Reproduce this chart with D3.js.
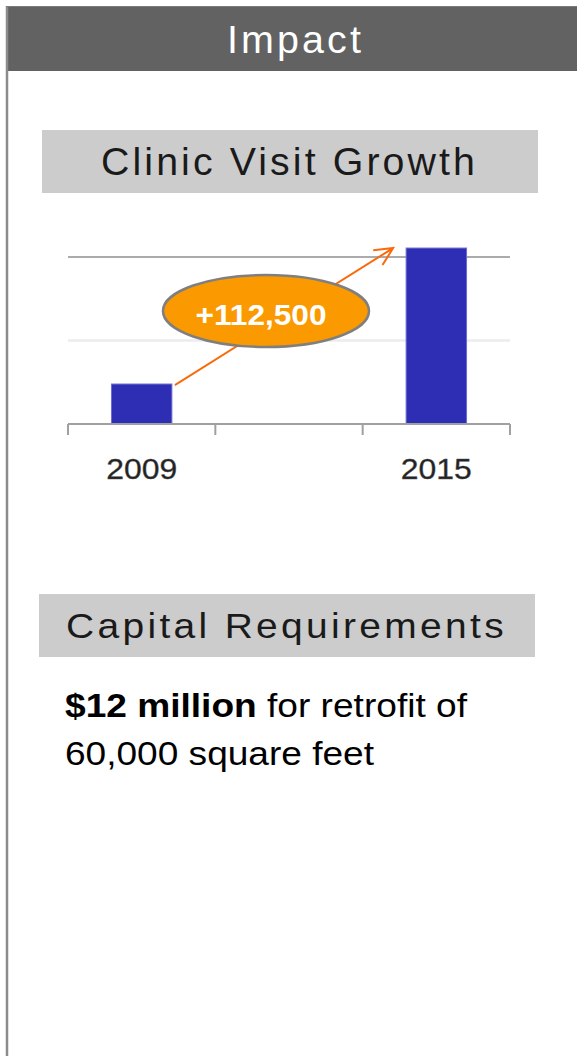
<!DOCTYPE html>
<html>
<head>
<meta charset="utf-8">
<script src="https://cdn.jsdelivr.net/npm/d3@7"></script>
<style>
  body { margin: 0; background: #fff; }
  text { font-family: "Liberation Sans", Arial, sans-serif; }
</style>
</head>
<body>
<div id="chart"></div>
<script>
// values
var categories = ["2009", "", "2015"];
var visits = [33500, null, 147500];
var gridValues = [70000, 140000];
var changeLabel = "+112,500";

var headerTitle = "Impact";
var chartTitle = "Clinic Visit Growth";
var capitalTitle = "Capital Requirements";
var capitalBold = "$12 million";
var capitalRest = " for retrofit of";
var capitalLine2 = "60,000 square feet";

var W = 577, H = 1056;

var svg = d3.select("#chart").append("svg")
    .attr("width", W)
    .attr("height", H);

svg.append("rect").attr("width", W).attr("height", H).attr("fill", "#fff");

// frame + header band
svg.append("rect")
    .attr("x", 6).attr("y", 6)
    .attr("width", W - 6).attr("height", 65)
    .attr("fill", "#626262");
svg.append("line")
    .attr("x1", 7).attr("x2", 7)
    .attr("y1", 6).attr("y2", H)
    .attr("stroke", "#8c8c8c")
    .attr("stroke-width", 2.5);
svg.append("line")
    .attr("x1", 6).attr("x2", W)
    .attr("y1", 6.5).attr("y2", 6.5)
    .attr("stroke", "#7a7a7a")
    .attr("stroke-width", 1);

// wide, spaced heading text
function heading(label, tx, ty, size, len, fill) {
    svg.append("text")
        .attr("x", tx).attr("y", ty)
        .attr("font-size", size)
        .attr("fill", fill)
        .attr("letter-spacing", 3)
        .attr("textLength", len)
        .attr("lengthAdjust", "spacingAndGlyphs")
        .text(label);
}

heading(headerTitle, 227, 53, 38, 137, "#fff");

function titleBox(x, y, w, h) {
    svg.append("rect")
        .attr("x", x).attr("y", y)
        .attr("width", w).attr("height", h)
        .attr("fill", "#cccccc");
}
titleBox(42, 130, 496, 63);
heading(chartTitle, 101, 175, 38, 377, "#1a1a1a");
titleBox(39, 594, 496, 63);
heading(capitalTitle, 66, 638, 35, 441, "#1a1a1a");

// chart
var x = d3.scaleBand()
    .domain(categories)
    .range([68, 510])
    .paddingInner(0.59)
    .paddingOuter(0.295);

var y = d3.scaleLinear()
    .domain([0, 140000])
    .range([424, 257]);

var g = svg.append("g");

g.selectAll(".grid")
    .data(gridValues)
    .enter().append("line")
    .attr("class", "grid")
    .attr("x1", 68).attr("x2", 510)
    .attr("y1", function (d) { return y(d); })
    .attr("y2", function (d) { return y(d); })
    .attr("stroke", function (d, i) { return i == gridValues.length - 1 ? "#8f8f8f" : "#ececec"; })
    .attr("stroke-width", function (d, i) { return i == gridValues.length - 1 ? 1.5 : 2.5; });

var barData = categories.map(function (c, i) { return { cat: c, v: visits[i] }; })
    .filter(function (d) { return d.v != null; });

g.selectAll(".bar")
    .data(barData)
    .enter().append("rect")
    .attr("class", "bar")
    .attr("x", function (d) { return x(d.cat); })
    .attr("width", x.bandwidth())
    .attr("y", function (d) { return y(d.v); })
    .attr("height", function (d) { return y(0) - y(d.v); })
    .attr("fill", "#2e2eb4")
    .attr("stroke", "#6b6bd2")
    .attr("stroke-width", 1);

// axis with ticks on band boundaries
var xAxis = d3.axisBottom(x).tickSize(0).tickPadding(0);
var axisG = svg.append("g")
    .attr("transform", "translate(0," + y(0) + ")")
    .call(xAxis);
axisG.select(".domain").remove();
axisG.selectAll("text")
    .attr("y", 55)
    .attr("dy", 0)
    .attr("font-size", 29)
    .attr("fill", "#222")
    .attr("stroke", "#555")
    .attr("stroke-width", 0.4)
    .attr("font-family", "Liberation Sans, Arial, sans-serif")
    .attr("textLength", function (d) { return d ? 71 : 0; })
    .attr("lengthAdjust", "spacingAndGlyphs");

var edges = d3.range(categories.length + 1).map(function (i) {
    return x.range()[0] + i * x.step();
});
axisG.append("line")
    .attr("x1", edges[0]).attr("x2", edges[edges.length - 1])
    .attr("y1", 0).attr("y2", 0)
    .attr("stroke", "#a0a0a0").attr("stroke-width", 2);
axisG.selectAll(".edge")
    .data(edges)
    .enter().append("line")
    .attr("class", "edge")
    .attr("x1", function (d) { return d; }).attr("x2", function (d) { return d; })
    .attr("y1", 0).attr("y2", 11)
    .attr("stroke", "#a0a0a0").attr("stroke-width", 2);

// growth arrow from 2009 bar to 2015 bar
var x0 = x(categories[0]) + x.bandwidth() + 3, y0 = y(visits[0]) + 1;
var x1 = x(categories[2]) - 13, y1 = y(visits[2]);
var ang = Math.atan2(y1 - y0, x1 - x0);
var head = 20, spread = 0.45;
svg.append("path")
    .attr("d", "M" + x0 + "," + y0 + "L" + x1 + "," + y1 +
        "M" + (x1 - head * Math.cos(ang - spread)) + "," + (y1 - head * Math.sin(ang - spread)) +
        "L" + x1 + "," + y1 +
        "L" + (x1 - head * Math.cos(ang + spread)) + "," + (y1 - head * Math.sin(ang + spread)))
    .attr("fill", "none")
    .attr("stroke", "#fb6a0a")
    .attr("stroke-width", 2);

svg.append("ellipse")
    .attr("cx", 266).attr("cy", 311)
    .attr("rx", 103).attr("ry", 36)
    .attr("fill", "#fb9a00")
    .attr("stroke", "#7f7f7f")
    .attr("stroke-width", 2.5);
svg.append("text")
    .attr("x", 261).attr("y", 325)
    .attr("text-anchor", "middle")
    .attr("font-size", 30)
    .attr("font-weight", "bold")
    .attr("fill", "#fff")
    .attr("textLength", 131)
    .attr("lengthAdjust", "spacingAndGlyphs")
    .text(changeLabel);

// capital text
var line1 = svg.append("text")
    .attr("x", 65).attr("y", 717)
    .attr("font-size", 33)
    .attr("fill", "#000")
    .attr("textLength", 402)
    .attr("lengthAdjust", "spacingAndGlyphs");
line1.append("tspan").attr("font-weight", "bold").text(capitalBold);
line1.append("tspan").text(capitalRest);

svg.append("text")
    .attr("x", 65).attr("y", 765)
    .attr("font-size", 33)
    .attr("fill", "#000")
    .attr("textLength", 309)
    .attr("lengthAdjust", "spacingAndGlyphs")
    .text(capitalLine2);
</script>
</body>
</html>
